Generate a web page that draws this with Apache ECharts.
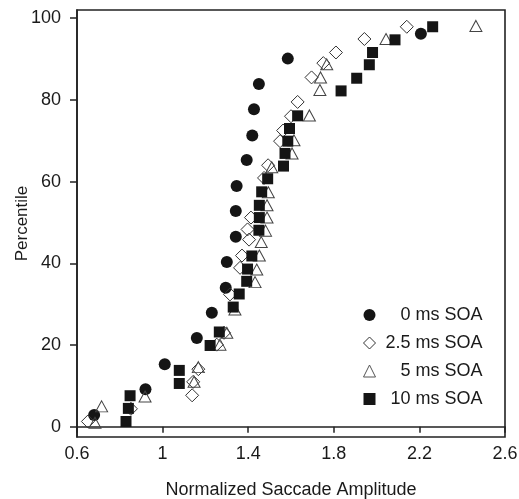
<!DOCTYPE html>
<html>
<head>
<meta charset="utf-8">
<script src="https://cdn.jsdelivr.net/npm/echarts@6/dist/echarts.min.js"></script>
<style>
html,body{margin:0;padding:0;background:#fff;}
#chart{width:519px;height:499px;}
</style>
</head>
<body>
<div id="chart"></div>
<script>
var xTicks = [0.6, 1, 1.4, 1.8, 2.2, 2.6];
var yTicks = [0, 20, 40, 60, 80, 100];
var seriesNames = ['0 ms SOA', '2.5 ms SOA', '5 ms SOA', '10 ms SOA'];

var soa0X = [0.68,0.92,1.01,1.16,1.23,1.295,1.30,1.342,1.342,1.346,1.393,1.419,1.427,1.45,1.585,2.207];
var soa0Y = [2.9,9.2,15.3,21.7,27.9,34.0,40.3,46.5,52.8,58.9,65.3,71.3,77.7,83.9,90.1,96.2];

var soa25X = [0.651,0.852,1.138,1.143,1.167,1.253,1.287,1.315,1.362,1.371,1.404,1.397,1.413,1.474,1.493,1.549,1.563,1.60,1.631,1.696,1.751,1.81,1.943,2.141];
var soa25Y = [1.3,4.4,7.7,11.0,14.1,20.1,23.0,32.4,38.9,41.9,45.8,48.3,51.2,60.9,64.0,69.9,72.5,76.0,79.5,85.5,89.0,91.6,94.9,97.9];

var soa5X = [0.684,0.715,0.918,1.147,1.167,1.268,1.30,1.338,1.432,1.44,1.452,1.461,1.481,1.488,1.488,1.494,1.51,1.605,1.614,1.686,1.735,1.738,1.767,2.044,2.464];
var soa5Y = [1.0,5.0,7.4,11.0,14.6,20.1,23.0,28.7,35.4,38.5,41.9,45.2,48.0,51.2,54.2,57.4,63.5,66.9,70.1,76.2,82.4,85.5,88.7,94.9,98.1];

var soa10X = [0.829,0.84,0.848,1.078,1.078,1.222,1.265,1.33,1.358,1.393,1.397,1.417,1.45,1.452,1.452,1.463,1.491,1.565,1.572,1.585,1.593,1.631,1.834,1.907,1.966,1.981,2.086,2.262];
var soa10Y = [1.3,4.5,7.6,10.6,13.8,19.9,23.2,29.3,32.5,35.6,38.6,41.8,48.1,51.2,54.2,57.5,60.7,63.8,66.9,69.9,73.0,76.1,82.2,85.3,88.6,91.6,94.7,97.9];

function pairs(xs, ys){ return xs.map(function(x,i){ return [x, ys[i]]; }); }

var FONT = '"Liberation Sans", Arial, sans-serif';
var TXT = '#1a1a1a';

var chart = echarts.init(document.getElementById('chart'), null, {renderer:'canvas'});
var filled = {color:'#151515', opacity:1};
var hollow = {color:'rgba(255,255,255,0)', borderColor:'#333', borderWidth:1, opacity:1};

chart.setOption({
  animation:false,
  backgroundColor:'#fff',
  grid:{left:77, right:14, top:10, bottom:62, containLabel:false, outerBoundsMode:'none', show:true, borderColor:'#222', borderWidth:1.6, backgroundColor:'transparent'},
  xAxis:{
    type:'value', min:0.6, max:2.6,
    name:'Normalized Saccade Amplitude', nameLocation:'middle', nameGap:44, nameMoveOverlap:false,
    nameTextStyle:{fontSize:18, fontFamily:FONT, color:TXT},
    axisLine:{show:true, lineStyle:{color:'#222', width:1.6}},
    axisTick:{show:true, inside:false, length:6, customValues:xTicks, lineStyle:{color:'#222', width:1.5}},
    axisLabel:{show:true, customValues:xTicks, margin:8, fontSize:18, fontFamily:FONT, color:TXT, hideOverlap:false},
    splitLine:{show:false}
  },
  yAxis:{
    type:'value', min:-2.5, max:102,
    name:'Percentile', nameLocation:'middle', nameGap:46, nameMoveOverlap:false,
    nameTextStyle:{fontSize:17, fontFamily:FONT, color:TXT},
    axisLine:{show:true, lineStyle:{color:'#222', width:1.6}},
    axisTick:{show:true, inside:false, length:7, customValues:yTicks, lineStyle:{color:'#222', width:1.5}},
    axisLabel:{show:true, customValues:yTicks, margin:16, fontSize:18, fontFamily:FONT, color:TXT, hideOverlap:false},
    splitLine:{show:false}
  },
  legend:{
    orient:'vertical', left:358, top:301, itemWidth:12, itemHeight:12, itemGap:10,
    formatter:function(n){ return '{t|' + n + '}'; },
    textStyle:{rich:{t:{width:102, align:'right', fontSize:18, lineHeight:16, fontFamily:FONT, color:TXT}}},
    data:[
      {name:seriesNames[0], icon:'circle', itemStyle:{color:'#151515', borderWidth:0, opacity:1}},
      {name:seriesNames[1], icon:'diamond', itemStyle:{color:'#fff', borderColor:'#333', borderWidth:1, opacity:1}},
      {name:seriesNames[2], icon:'triangle', itemStyle:{color:'#fff', borderColor:'#555', borderWidth:1, opacity:1}},
      {name:seriesNames[3], icon:'rect', itemStyle:{color:'#151515', borderWidth:0, opacity:1}}
    ]
  },
  series:[
    {name:seriesNames[0], type:'scatter', symbol:'circle', symbolSize:12, itemStyle:filled, data:pairs(soa0X, soa0Y)},
    {name:seriesNames[1], type:'scatter', symbol:'diamond', symbolSize:13, itemStyle:hollow, data:pairs(soa25X, soa25Y)},
    {name:seriesNames[2], type:'scatter', symbol:'triangle', symbolSize:[12,11], itemStyle:{color:'rgba(255,255,255,0)', borderColor:'#444', borderWidth:1, opacity:1}, data:pairs(soa5X, soa5Y)},
    {name:seriesNames[3], type:'scatter', symbol:'rect', symbolSize:11, itemStyle:filled, data:pairs(soa10X, soa10Y)}
  ]
});
</script>
</body>
</html>
